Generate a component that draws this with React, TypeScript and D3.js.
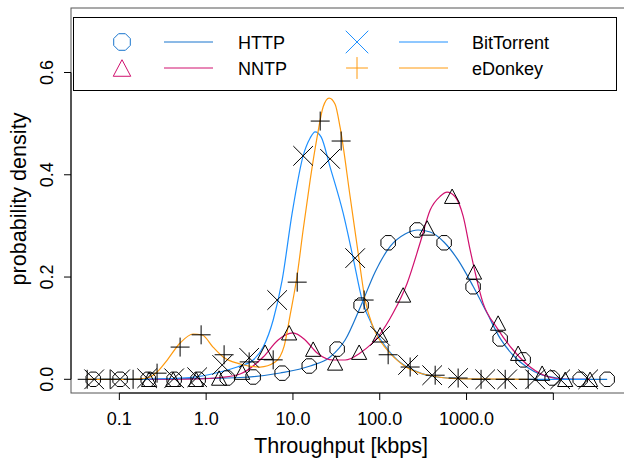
import React from 'react';
import * as d3 from 'd3';

// ---- Data (throughput in kbps, probability density) ----
const seriesNames = ['HTTP', 'NNTP', 'BitTorrent', 'eDonkey'];

// HTTP
const httpPointX = [0.050, 0.102, 0.215, 0.428, 0.809, 1.75, 3.48, 7.51, 15.4, 32.3, 61.0, 125, 270, 552, 1190, 2440, 4490, 9690, 20400, 41700];
const httpPointY = [0, 0, 0, 0, 0, 0.0025, 0.0045, 0.012, 0.026, 0.059, 0.145, 0.267, 0.292, 0.267, 0.181, 0.079, 0.038, 0.0025, 0, 0];
const httpCurveX = [0.0499, 0.226, 0.853, 2.46, 7.12, 15.8, 26.8, 39.9, 61.0, 88.5, 132, 196, 277, 381, 552, 800, 1190, 1730, 2440, 3440, 4990, 7050, 10500, 17800, 41700];
const httpCurveY = [0, 0, 0.0016, 0.0035, 0.0123, 0.026, 0.0436, 0.0769, 0.145, 0.210, 0.260, 0.284, 0.292, 0.288, 0.268, 0.233, 0.182, 0.129, 0.080, 0.047, 0.0235, 0.0098, 0.003, 0, 0];

// NNTP
const nntpPointX = [0.220, 0.417, 0.767, 1.41, 2.60, 4.78, 9.04, 17.1, 30.6, 57.9, 101, 186, 352, 682, 1220, 2310, 3930, 7430, 13700, 26500];
const nntpPointY = [0, 0, 0, 0.0025, 0.014, 0.053, 0.091, 0.059, 0.032, 0.053, 0.087, 0.165, 0.296, 0.358, 0.210, 0.110, 0.051, 0.012, 0, 0];
const nntpCurveX = [0.220, 0.853, 1.45, 2.46, 4.54, 6.75, 10.0, 13.8, 19.0, 29.0, 39.9, 59.4, 101, 143, 207, 292, 381, 497, 597, 739, 914, 1100, 1550, 2250, 3440, 5410, 8490, 12600, 26500];
const nntpCurveY = [0, 0.0006, 0.0035, 0.0104, 0.0436, 0.077, 0.0906, 0.077, 0.0514, 0.0377, 0.0377, 0.0514, 0.0886, 0.130, 0.188, 0.267, 0.331, 0.358, 0.366, 0.357, 0.319, 0.253, 0.149, 0.100, 0.0573, 0.0241, 0.0055, 0.0006, 0];

// BitTorrent
const btPointX = [0.0513, 0.102, 0.209, 0.428, 0.788, 1.53, 3.13, 6.58, 13.1, 26.8, 52.1, 101, 212, 402, 800, 1640, 2940, 6170, 12000, 25200];
const btPointY = [0, 0, 0.002, 0.002, 0.004, 0.028, 0.042, 0.155, 0.437, 0.431, 0.237, 0.085, 0.028, 0.008, 0.0025, 0, 0, 0, 0, 0];
const btCurveX = [0.0513, 0.226, 0.655, 1.45, 2.28, 3.48, 4.54, 5.92, 7.51, 9.79, 13.1, 15.8, 18.0, 21.1, 26.8, 37.9, 49.4, 62.7, 84.0, 109, 159, 243, 412, 780, 1870, 25200];
const btCurveY = [0, 0.0006, 0.0035, 0.0143, 0.024, 0.0377, 0.063, 0.116, 0.194, 0.325, 0.437, 0.472, 0.484, 0.474, 0.415, 0.325, 0.237, 0.155, 0.102, 0.071, 0.038, 0.018, 0.0055, 0.0016, 0, 0];

// eDonkey
const edPointX = [0.0426, 0.0783, 0.144, 0.272, 0.501, 0.875, 1.61, 3.13, 5.92, 11.2, 20.6, 35.9, 66.1, 125, 224, 435, 800, 1470, 2790, 5130];
const edPointY = [0, 0, 0, 0.012, 0.063, 0.087, 0.048, 0.034, 0.038, 0.190, 0.505, 0.466, 0.155, 0.048, 0.024, 0.008, 0.0025, 0, 0, 0];
const edCurveX = [0.0426, 0.133, 0.209, 0.272, 0.356, 0.501, 0.708, 0.899, 1.20, 1.57, 2.46, 4.19, 6.24, 7.92, 9.29, 11.2, 13.1, 15.8, 19.0, 22.3, 26.1, 30.6, 35.0, 45.6, 56.4, 67.9, 84.0, 122, 186, 352, 844, 5130];
const edCurveY = [0, 0, 0.0025, 0.0143, 0.0377, 0.071, 0.0886, 0.0866, 0.063, 0.0436, 0.030, 0.024, 0.0338, 0.065, 0.126, 0.204, 0.292, 0.390, 0.474, 0.533, 0.550, 0.538, 0.492, 0.357, 0.247, 0.155, 0.102, 0.0573, 0.028, 0.0084, 0.001, 0];

// Axis ticks
const xTickValues = [0.1, 1, 10, 100, 1000, 10000];
const xTickLabels = ['0.1', '1.0', '10.0', '100.0', '1000.0', ''];
const yTickValues = [0, 0.2, 0.4, 0.6];
const yTickLabels = ['0.0', '0.2', '0.4', '0.6'];

// ---- Styles ----
const colors: Record<string, string> = {
  HTTP: '#1874CD',
  NNTP: '#D0106E',
  BitTorrent: '#1E90FF',
  eDonkey: '#FF9A0E',
};
const FONT = "'Liberation Sans', Arial, Helvetica, sans-serif";
const TICK_FS = 18;
const TITLE_FS = 21.6;

const W = 624;
const H = 460;
const left = 71;
const top = 8;
const bottom = 393;
const right = 660;

const xs = d3.scaleLog().domain([0.027, 50000]).range([70, 614]);
const ys = d3.scaleLinear().domain([0, 0.6]).range([379.3, 72.5]);

function zip(a: number[], b: number[]): [number, number][] {
  return a.map((v, i) => [v, b[i]]);
}

function octagon(cx: number, cy: number, r: number) {
  const pts: string[] = [];
  for (let k = 0; k < 8; k++) {
    const a = (Math.PI / 8) + (k * Math.PI) / 4;
    pts.push(`${(cx + r * Math.cos(a)).toFixed(2)},${(cy + r * Math.sin(a)).toFixed(2)}`);
  }
  return pts.join(' ');
}

function Marker({ shape, x, y, color, s = 1 }: { shape: string; x: number; y: number; color: string; s?: number }) {
  if (shape === 'circle') {
    return <polygon points={octagon(x, y, 7.8 * s)} fill="none" stroke={color} strokeWidth={1} />;
  }
  if (shape === 'triangle') {
    const w = 7.6 * s;
    const h = 7.2 * s;
    return (
      <polygon
        points={`${x},${y - h} ${x + w},${y + h} ${x - w},${y + h}`}
        fill="none"
        stroke={color}
        strokeWidth={1}
      />
    );
  }
  if (shape === 'x') {
    const h = 9.8 * s;
    return (
      <g stroke={color} strokeWidth={1}>
        <line x1={x - h} y1={y - h} x2={x + h} y2={y + h} />
        <line x1={x - h} y1={y + h} x2={x + h} y2={y - h} />
      </g>
    );
  }
  const h = 9.5 * s;
  return (
    <g stroke={color} strokeWidth={1}>
      <line x1={x - h} y1={y} x2={x + h} y2={y} />
      <line x1={x} y1={y - h} x2={x} y2={y + h} />
    </g>
  );
}

export default function App() {
  const line = d3
    .line<[number, number]>()
    .x((d) => xs(d[0]))
    .y((d) => ys(d[1]))
    .curve(d3.curveMonotoneX);

  const series = [
    { name: 'HTTP', shape: 'circle', px: httpPointX, py: httpPointY, cx: httpCurveX, cy: httpCurveY },
    { name: 'NNTP', shape: 'triangle', px: nntpPointX, py: nntpPointY, cx: nntpCurveX, cy: nntpCurveY },
    { name: 'BitTorrent', shape: 'x', px: btPointX, py: btPointY, cx: btCurveX, cy: btCurveY },
    { name: 'eDonkey', shape: 'plus', px: edPointX, py: edPointY, cx: edCurveX, cy: edCurveY },
  ];

  const legendItems = [
    { name: seriesNames[0], shape: 'circle', col: 0, row: 0 },
    { name: seriesNames[1], shape: 'triangle', col: 0, row: 1 },
    { name: seriesNames[2], shape: 'x', col: 1, row: 0 },
    { name: seriesNames[3], shape: 'plus', col: 1, row: 1 },
  ];

  return (
    <svg
      width={W}
      height={H}
      style={{ position: 'absolute', left: 0, top: 0, background: '#fff' }}
      fontFamily={FONT}
    >
      <rect x={0} y={0} width={W} height={H} fill="#fff" />
      {/* plot box */}
      <rect x={left} y={top} width={right - left} height={bottom - top} fill="none" stroke="#555" strokeWidth={1} />

      {/* curves */}
      {series.map((s) => (
        <path key={s.name} d={line(zip(s.cx, s.cy)) || ''} fill="none" stroke={colors[s.name]} strokeWidth={1.2} />
      ))}

      {/* points */}
      {series.map((s) =>
        s.px.map((v, i) => (
          <Marker key={`${s.name}-${i}`} shape={s.shape} x={xs(v)} y={ys(s.py[i])} color="#000" />
        ))
      )}

      {/* x axis */}
      <line x1={xs(xTickValues[0])} x2={xs(xTickValues[xTickValues.length - 1])} y1={bottom} y2={bottom} stroke="#000" />
      {xTickValues.map((v, i) => (
        <g key={`xt-${i}`}>
          <line x1={xs(v)} x2={xs(v)} y1={bottom} y2={bottom + 7} stroke="#000" />
          <text x={xs(v)} y={425} textAnchor="middle" fontSize={TICK_FS}>
            {xTickLabels[i]}
          </text>
        </g>
      ))}
      <text x={341} y={453} textAnchor="middle" fontSize={TITLE_FS}>
        Throughput [kbps]
      </text>

      {/* y axis */}
      <line x1={left} x2={left} y1={ys(yTickValues[0])} y2={ys(yTickValues[yTickValues.length - 1])} stroke="#000" />
      {yTickValues.map((v, i) => (
        <g key={`yt-${i}`}>
          <line x1={left - 7} x2={left} y1={ys(v)} y2={ys(v)} stroke="#000" />
          <text transform={`translate(53,${ys(v)}) rotate(-90)`} textAnchor="middle" fontSize={TICK_FS}>
            {yTickLabels[i]}
          </text>
        </g>
      ))}
      <text transform={`translate(26,199) rotate(-90)`} textAnchor="middle" fontSize={TITLE_FS}>
        probability density
      </text>

      {/* legend */}
      <rect x={73.5} y={17.5} width={543} height={73} fill="#fff" stroke="#000" strokeWidth={1} />
      {legendItems.map((it) => {
        const y = 42 + it.row * 26;
        const mx = it.col === 0 ? 122 : 357;
        const lx0 = it.col === 0 ? 164 : 399;
        const tx = it.col === 0 ? 238 : 472;
        return (
          <g key={`lg-${it.name}`}>
            <Marker shape={it.shape} x={mx} y={y} color={colors[it.name]} s={1.15} />
            <line x1={lx0} x2={lx0 + 49} y1={y} y2={y} stroke={colors[it.name]} strokeWidth={1} />
            <text x={tx} y={y + 6.5} fontSize={TICK_FS}>
              {it.name}
            </text>
          </g>
        );
      })}
    </svg>
  );
}
